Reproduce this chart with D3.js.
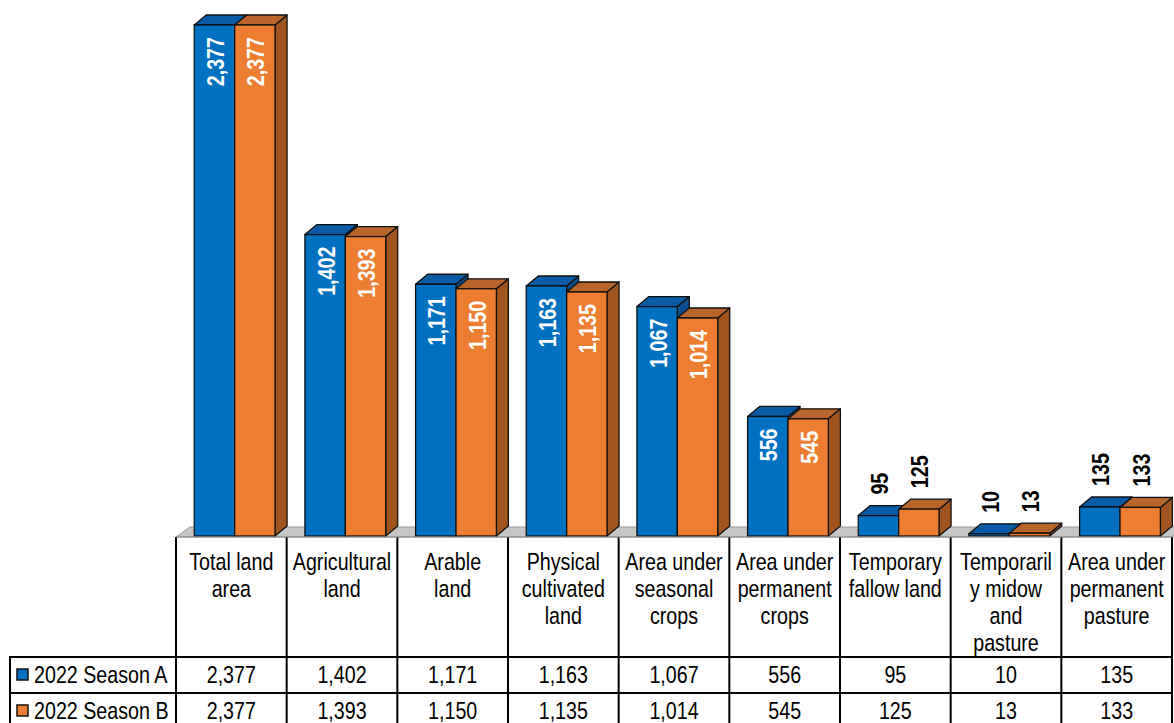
<!DOCTYPE html>
<html>
<head>
<meta charset="utf-8">
<script src="https://cdn.jsdelivr.net/npm/d3@7/dist/d3.min.js"></script>
<style>
  html, body { margin: 0; padding: 0; background: #ffffff; }
  svg { display: block; }
</style>
</head>
<body>
<svg id="chart" width="1174" height="723"></svg>
<script>
// ---------------- data ----------------
const categories = [
  "Total land\narea",
  "Agricultural\nland",
  "Arable\nland",
  "Physical\ncultivated\nland",
  "Area under\nseasonal\ncrops",
  "Area under\npermanent\ncrops",
  "Temporary\nfallow land",
  "Temporaril\ny midow\nand\npasture",
  "Area under\npermanent\npasture"
];
const seriesNames = ["2022 Season A", "2022 Season B"];
const seasonA = [2377, 1402, 1171, 1163, 1067, 556, 95, 10, 135];
const seasonB = [2377, 1393, 1150, 1135, 1014, 545, 125, 13, 133];
const seriesValues = [seasonA, seasonB];

// ---------------- styles ----------------
const frontColors = ["#0070C0", "#ED7D31"];
const topColors   = ["#0A5BA6", "#B8652B"];
const sideColors  = ["#094E8E", "#A0541F"];

const svg = d3.select("#chart");

// font detection: use a real narrow face if installed, otherwise compress Liberation Sans
let fontFamily = "'Liberation Sans', Arial, sans-serif";
let sx = 0.82;
(function () {
  const p = svg.append("text").style("font-size", "24px").text("2022 Season A 2,377 Wmm");
  p.style("font-family", "'Liberation Sans Narrow', monospace");
  const wn = p.node().getComputedTextLength();
  p.style("font-family", "monospace");
  const wm = p.node().getComputedTextLength();
  p.style("font-family", "'Liberation Sans'");
  const ws = p.node().getComputedTextLength();
  p.remove();
  if (Math.abs(wn - wm) > 1 && wn < 0.9 * ws && wn > 0.7 * ws) {
    fontFamily = "'Liberation Sans Narrow'";
    sx = 1;
  }
})();

function addText(parent, x, y, str, o) {
  o = o || {};
  const g = parent.append("g")
    .attr("transform", `translate(${x},${y}) rotate(${o.rotate || 0}) scale(${sx},1)`);
  const t = g.append("text")
    .attr("x", 0).attr("y", 0)
    .attr("text-anchor", o.anchor || "middle")
    .attr("dy", o.dy || 0)
    .style("font-family", fontFamily)
    .style("font-size", (o.size || 24) + "px")
    .style("font-weight", o.bold ? "bold" : "normal")
    .style("fill", o.fill || "#000")
    .text(str);
  return t;
}

// ---------------- scales ----------------
const tableLeft = 10, plotLeft = 176, plotRight = 1172;
const x = d3.scaleBand().domain(d3.range(categories.length)).range([plotLeft, plotRight]).paddingInner(0).paddingOuter(0);
const bw = x.bandwidth();
const xs = d3.scaleBand().domain([0, 1]).range([bw * 0.165, bw * 0.895]).padding(0);
const y = d3.scaleLinear().domain([0, 2377]).range([536, 25]);
const depthX = 12, depthY = 10;

const floorFront = y(0) + 1;
const headerTop = floorFront;
const rowATop = 657, rowBTop = 693, rowBBottom = 729;

// ---------------- floor ----------------
svg.append("polygon")
  .attr("points", [
    [plotLeft, floorFront],
    [plotRight, floorFront],
    [plotRight + depthX + 2, floorFront - depthY],
    [plotLeft + depthX + 2, floorFront - depthY]
  ].map(p => p.join(",")).join(" "))
  .attr("fill", "#C6C6C6")
  .attr("stroke", "#9A9A9A")
  .attr("stroke-width", 1);

// ---------------- bars ----------------
const barsG = svg.append("g");
categories.forEach((c, i) => {
  [0, 1].forEach(s => {
    const v = seriesValues[s][i];
    const x0 = x(i) + xs(s);
    const x1 = x0 + xs.bandwidth();
    const y0 = y(0);
    const yt = y(v);
    const g = barsG.append("g");
    g.append("polygon")
      .attr("points", [[x1, yt], [x1 + depthX, yt - depthY], [x1 + depthX, y0 - depthY], [x1, y0]].map(p => p.join(",")).join(" "))
      .attr("fill", sideColors[s]).attr("stroke", "#111").attr("stroke-width", 1.3).attr("stroke-linejoin", "round");
    g.append("polygon")
      .attr("points", [[x0, yt], [x0 + depthX, yt - depthY], [x1 + depthX, yt - depthY], [x1, yt]].map(p => p.join(",")).join(" "))
      .attr("fill", topColors[s]).attr("stroke", "#111").attr("stroke-width", 1.3).attr("stroke-linejoin", "round");
    g.append("rect")
      .attr("x", x0).attr("y", yt)
      .attr("width", x1 - x0).attr("height", Math.max(0, y0 - yt))
      .attr("fill", frontColors[s]).attr("stroke", "#111").attr("stroke-width", 1.3);
  });
});

// ---------------- data labels ----------------
const labelsG = svg.append("g");
const fmt = d3.format(",");
categories.forEach((c, i) => {
  [0, 1].forEach(s => {
    const v = seriesValues[s][i];
    const cx = x(i) + xs(s) + xs.bandwidth() / 2 + 1;
    const yt = y(v);
    if (v > 300) {
      addText(labelsG, cx, yt + 12, fmt(v), { rotate: -90, anchor: "end", bold: true, fill: "#ffffff", dy: "0.35em" });
    } else {
      addText(labelsG, cx, yt - 21, fmt(v), { rotate: -90, anchor: "start", bold: true, fill: "#000000", dy: "0.35em" });
    }
  });
});

// ---------------- data table ----------------
const tbl = svg.append("g");
categories.forEach((c, i) => {
  const cx = x(i) + bw / 2;
  c.split("\n").forEach((line, k) => {
    addText(tbl, cx, 570 + k * 27, line, {});
  });
});
[0, 1].forEach(s => {
  const top = s === 0 ? rowATop : rowBTop;
  const base = top + 26;
  seriesValues[s].forEach((v, i) => {
    addText(tbl, x(i) + bw / 2, base, fmt(v), {});
  });
  tbl.append("rect")
    .attr("x", 17).attr("y", top + 12).attr("width", 11).attr("height", 11)
    .attr("fill", frontColors[s]).attr("stroke", "#111").attr("stroke-width", 1.5);
  addText(tbl, 34, base, seriesNames[s], { anchor: "start" });
});

const lineColor = "#000";
x.domain().concat([categories.length]).forEach(i => {
  const xx = i < categories.length ? x(i) : plotRight;
  tbl.append("line")
    .attr("x1", xx).attr("x2", xx)
    .attr("y1", headerTop).attr("y2", rowBBottom)
    .attr("stroke", lineColor).attr("stroke-width", 2);
});
tbl.append("line")
  .attr("x1", tableLeft).attr("x2", tableLeft)
  .attr("y1", rowATop).attr("y2", rowBBottom)
  .attr("stroke", lineColor).attr("stroke-width", 2);
[rowATop, rowBTop].forEach(yy => {
  tbl.append("line")
    .attr("x1", tableLeft - 1).attr("x2", plotRight + 1)
    .attr("y1", yy).attr("y2", yy)
    .attr("stroke", lineColor).attr("stroke-width", 2);
});
tbl.append("line")
  .attr("x1", plotLeft).attr("x2", plotRight)
  .attr("y1", headerTop).attr("y2", headerTop)
  .attr("stroke", "#8A8A8A").attr("stroke-width", 1);
</script>
</body>
</html>
